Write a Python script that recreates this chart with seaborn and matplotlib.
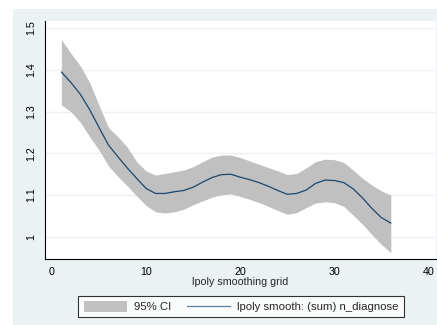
import numpy as np
import pandas as pd
import matplotlib
matplotlib.use("Agg")
import matplotlib.pyplot as plt
import seaborn as sns
from matplotlib.patches import Rectangle, Patch
from matplotlib.lines import Line2D

# lpoly smoothing grid points and estimates
grid = list(range(1, 37))
smooth = [1.395, 1.370, 1.342, 1.305, 1.262, 1.220, 1.192, 1.165, 1.140, 1.116,
          1.104, 1.104, 1.108, 1.111, 1.119, 1.131, 1.142, 1.149, 1.150, 1.143,
          1.137, 1.130, 1.121, 1.111, 1.102, 1.104, 1.112, 1.128, 1.136, 1.135,
          1.130, 1.115, 1.093, 1.068, 1.046, 1.033]
ci_upper = [1.473, 1.440, 1.410, 1.370, 1.315, 1.262, 1.240, 1.215, 1.180, 1.158,
            1.148, 1.152, 1.156, 1.160, 1.168, 1.180, 1.191, 1.196, 1.196, 1.190,
            1.182, 1.174, 1.166, 1.158, 1.149, 1.152, 1.165, 1.180, 1.186, 1.185,
            1.178, 1.160, 1.140, 1.124, 1.110, 1.100]
ci_lower = [1.316, 1.300, 1.275, 1.240, 1.208, 1.170, 1.145, 1.122, 1.098, 1.075,
            1.060, 1.057, 1.060, 1.066, 1.077, 1.086, 1.095, 1.101, 1.103, 1.097,
            1.090, 1.082, 1.073, 1.063, 1.054, 1.058, 1.070, 1.081, 1.084, 1.082,
            1.073, 1.052, 1.030, 1.005, 0.982, 0.962]

xticks = [0, 10, 20, 30, 40]
yticks = [1.0, 1.1, 1.2, 1.3, 1.4, 1.5]
ytick_labels = ["1", "1.1", "1.2", "1.3", "1.4", "1.5"]

df = pd.DataFrame({"grid": grid, "smooth": smooth, "lo": ci_lower, "hi": ci_upper})

sns.set_style("white")
plt.rcParams["font.family"] = ["Liberation Sans", "DejaVu Sans"]
fs = 7.7

navy = "#1a476f"
gray = "#c0c0c0"
bg = "#eaf2f3"

fig = plt.figure(figsize=(4.37, 3.25), dpi=100)
fig.patch.set_facecolor("white")
fig.patches.append(Rectangle((13 / 437, 0), 1, 1 - 9 / 325, transform=fig.transFigure,
                             facecolor=bg, edgecolor="none", zorder=-10))

ax = fig.add_axes([45 / 437, (325 - 259) / 325, 391 / 437, 238 / 325])
ax.set_facecolor("white")

ax.fill_between(df["grid"], df["lo"], df["hi"], color=gray, linewidth=0, zorder=2)
sns.lineplot(data=df, x="grid", y="smooth", color=navy, linewidth=0.9, ax=ax, zorder=3)

ax.set_xlim(-0.74, 40.8)
ax.set_ylim(0.947, 1.517)
ax.set_xticks(xticks)
ax.set_xticklabels([str(t) for t in xticks], fontsize=fs)
ax.set_yticks(yticks)
ax.set_yticklabels(ytick_labels, fontsize=fs, rotation=90, va="center")

for y in yticks:
    ax.axhline(y, color=bg, linewidth=1.0, zorder=1)

for s in ["top", "right"]:
    ax.spines[s].set_visible(False)
for s in ["left", "bottom"]:
    ax.spines[s].set_color("black")
    ax.spines[s].set_linewidth(0.8)

ax.tick_params(axis="both", direction="out", length=4, width=0.8, color="black",
               pad=2, labelcolor="black")
ax.set_xlabel("lpoly smoothing grid", fontsize=fs, labelpad=0)
ax.set_ylabel("")

handles = [Patch(facecolor=gray, edgecolor="none"),
           Line2D([0], [0], color=navy, linewidth=0.9, alpha=0.7)]
labels = ["95% CI", "lpoly smooth: (sum) n_diagnose"]
leg = fig.legend(handles, labels, loc="center", bbox_to_anchor=(241 / 437, 1 - 306.5 / 325),
                 ncol=2, fontsize=8.2, frameon=True, fancybox=False, handlelength=3.8,
                 handleheight=1.2, handletextpad=0.6, columnspacing=1.4, borderpad=0.45)
leg.get_frame().set_edgecolor("black")
leg.get_frame().set_linewidth(0.8)
leg.get_frame().set_facecolor("white")

plt.savefig("out.png", dpi=100, facecolor=fig.get_facecolor())
